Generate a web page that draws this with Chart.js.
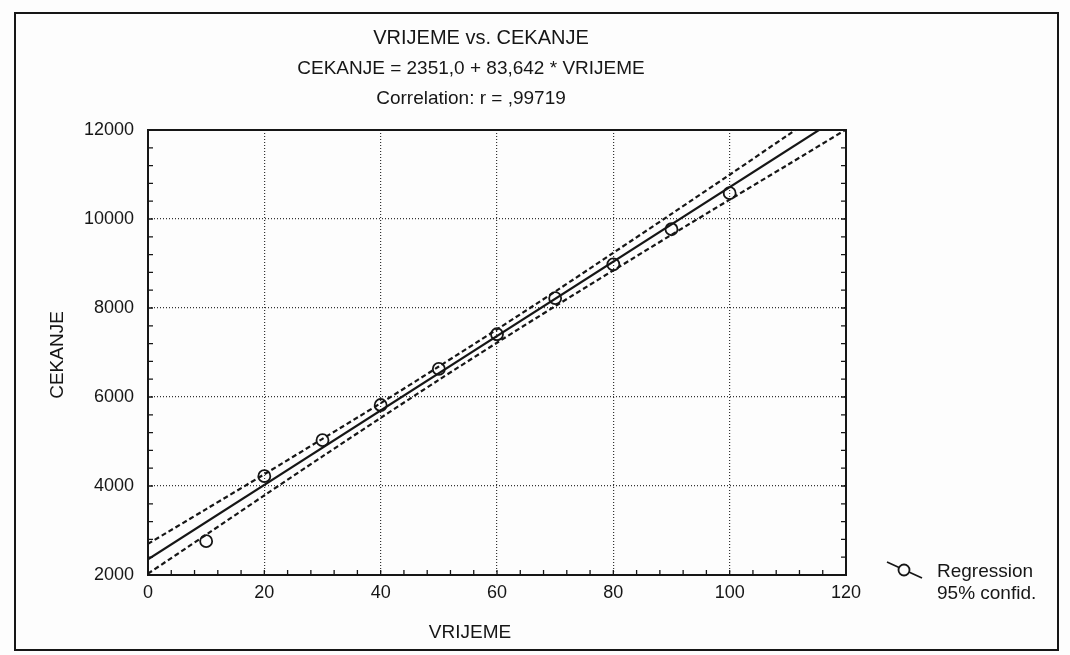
<!DOCTYPE html>
<html>
<head>
<meta charset="utf-8">
<script src="https://cdn.jsdelivr.net/npm/chart.js@4.4.1/dist/chart.umd.min.js"></script>
<style>
html, body { margin: 0; padding: 0; background: #fff; }
#wrap { width: 1070px; height: 655px; }
</style>
</head>
<body>
<div id="wrap"><canvas id="myGraph" width="1070" height="655"></canvas></div>
<script>
////////////////DATA//////////////////

const vrijeme = [10, 20, 30, 40, 50, 60, 70, 80, 90, 100];
const cekanje = [2760, 4220, 5030, 5820, 6630, 7410, 8220, 8980, 9770, 10580];

// regression line ends (CEKANJE = 2351,0 + 83,642 * VRIJEME)
const regX = [0, 120];
const regY = [2351, 12388];

// 95% confidence bands
const bandX = [0, 10, 20, 30, 40, 50, 60, 70, 80, 90, 100, 110, 120];
const upper95 = [2700, 3480, 4265, 5060, 5860, 6685, 7520, 8370, 9240, 10115, 10995, 11885, 12770];
const lower95 = [2030, 2905, 3790, 4665, 5530, 6385, 7220, 8040, 8845, 9645, 10435, 11220, 12010];

const xTicks = [0, 20, 40, 60, 80, 100, 120];
const yTicks = [2000, 4000, 6000, 8000, 10000, 12000];

const titleLines = ["VRIJEME vs. CEKANJE", "CEKANJE = 2351,0 + 83,642 * VRIJEME", "Correlation: r = ,99719"];
const xTitle = "VRIJEME";
const yTitle = "CEKANJE";
const legendLines = ["Regression", "95% confid."];

function pairs(xs, ys) {
    let out = [];
    for (let i = 0; i < xs.length; i++) {
        out.push({ x: xs[i], y: ys[i] });
    }
    return out;
}

////////////////PAPER, FRAME, TEXT//////////////////

const FONT = '"Liberation Sans", Arial, Helvetica, sans-serif';
const INK = "#161616";

const paperPlugin = {
    id: "paper",
    beforeDraw(chart) {
        const ctx = chart.ctx;
        ctx.save();
        ctx.fillStyle = "#fdfdfd";
        ctx.fillRect(0, 0, chart.width, chart.height);
        ctx.strokeStyle = INK;
        ctx.lineWidth = 2;
        ctx.strokeRect(15, 13, 1043, 637);
        ctx.restore();
    },
    afterDraw(chart) {
        const ctx = chart.ctx;
        const a = chart.chartArea;
        const xs = chart.scales.x;
        const ys = chart.scales.y;
        ctx.save();

        // box round the plot
        ctx.strokeStyle = INK;
        ctx.lineWidth = 2;
        ctx.strokeRect(a.left, a.top, a.right - a.left, a.bottom - a.top);

        // small inward ticks
        ctx.lineWidth = 1.3;
        ctx.beginPath();
        for (let v = xs.min; v <= xs.max; v += 4) {
            let px = xs.getPixelForValue(v);
            ctx.moveTo(px, a.bottom);
            ctx.lineTo(px, a.bottom - 5);
        }
        for (let v = ys.min; v <= ys.max; v += 400) {
            let py = ys.getPixelForValue(v);
            ctx.moveTo(a.left, py);
            ctx.lineTo(a.left + 5, py);
            ctx.moveTo(a.right, py);
            ctx.lineTo(a.right - 5, py);
        }
        ctx.stroke();

        // titles
        ctx.fillStyle = INK;
        ctx.textAlign = "center";
        ctx.textBaseline = "middle";
        ctx.font = "20px " + FONT;
        ctx.fillText(titleLines[0], 481, 38);
        ctx.font = "19px " + FONT;
        ctx.fillText(titleLines[1], 471, 69);
        ctx.fillText(titleLines[2], 471, 99);

        ctx.fillText(xTitle, 470, 633);

        ctx.save();
        ctx.translate(58, 355);
        ctx.rotate(-Math.PI / 2);
        ctx.fillText(yTitle, 0, 0);
        ctx.restore();

        // legend
        ctx.strokeStyle = INK;
        ctx.lineWidth = 1.8;
        ctx.beginPath();
        ctx.moveTo(887, 562);
        ctx.lineTo(922, 578);
        ctx.stroke();
        ctx.fillStyle = "#fdfdfd";
        ctx.beginPath();
        ctx.arc(904, 570, 5.5, 0, Math.PI * 2);
        ctx.fill();
        ctx.stroke();

        ctx.fillStyle = INK;
        ctx.textAlign = "left";
        ctx.font = "19px " + FONT;
        ctx.fillText(legendLines[0], 937, 572);
        ctx.fillText(legendLines[1], 937, 594);

        ctx.restore();
    }
};

////////////////THE CHART//////////////////

const ctx = document.getElementById("myGraph");

let myChart = new Chart(ctx, {
    type: "scatter",
    data: {
        datasets: [{
            data: pairs(vrijeme, cekanje),
            showLine: false,
            pointRadius: 6,
            pointBorderWidth: 1.8,
            pointBorderColor: INK,
            pointBackgroundColor: "rgba(0,0,0,0)"
        }, {
            data: pairs(regX, regY),
            showLine: true,
            borderColor: INK,
            borderWidth: 2.2,
            pointRadius: 0,
            clip: 0
        }, {
            data: pairs(bandX, upper95),
            showLine: true,
            borderColor: INK,
            borderWidth: 2.2,
            borderDash: [5, 3],
            pointRadius: 0,
            tension: 0.3,
            clip: 0
        }, {
            data: pairs(bandX, lower95),
            showLine: true,
            borderColor: INK,
            borderWidth: 2.2,
            borderDash: [5, 3],
            pointRadius: 0,
            tension: 0.3,
            clip: 0
        }]
    },
    options: {
        responsive: false,
        animation: false,
        devicePixelRatio: 1,
        layout: {
            padding: { left: 48, right: 224, top: 130, bottom: 50 }
        },
        plugins: {
            legend: { display: false },
            tooltip: { enabled: false }
        },
        scales: {
            x: {
                type: "linear",
                min: 0,
                max: 120,
                afterFit: function (scale) { scale.height = 30; },
                afterBuildTicks: function (scale) {
                    scale.ticks = xTicks.map(v => ({ value: v }));
                },
                ticks: {
                    color: INK,
                    padding: 7,
                    font: { family: FONT, size: 18 },
                    callback: v => String(v)
                },
                grid: {
                    color: "#333",
                    lineWidth: 1.2,
                    drawTicks: false
                },
                border: { display: false, dash: [1, 2] }
            },
            y: {
                min: 2000,
                max: 12000,
                afterFit: function (scale) { scale.width = 100; },
                afterBuildTicks: function (scale) {
                    scale.ticks = yTicks.map(v => ({ value: v }));
                },
                ticks: {
                    color: INK,
                    padding: 14,
                    font: { family: FONT, size: 18 },
                    callback: v => String(v)
                },
                grid: {
                    color: "#333",
                    lineWidth: 1.2,
                    drawTicks: false
                },
                border: { display: false, dash: [1, 2] }
            }
        }
    },
    plugins: [paperPlugin]
});
</script>
</body>
</html>
